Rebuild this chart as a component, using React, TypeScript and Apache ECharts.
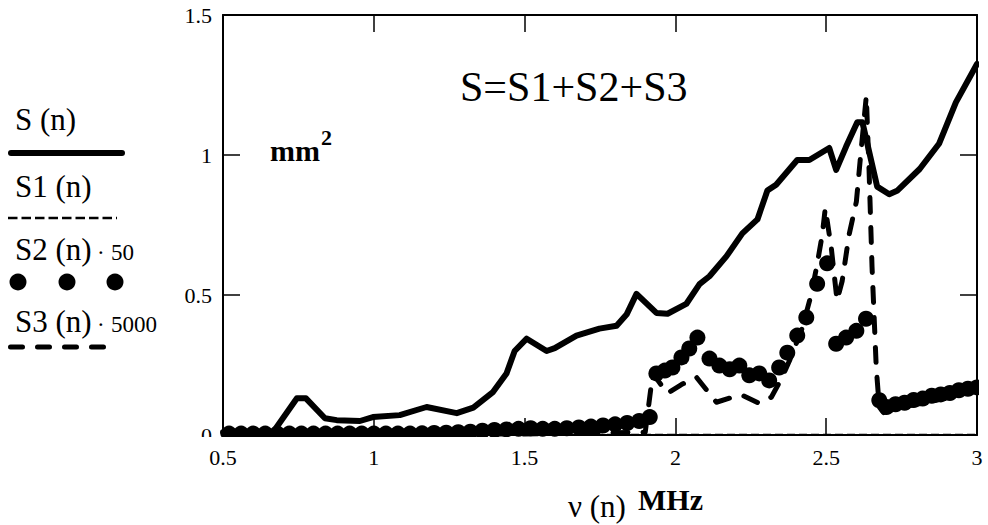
import React, { useEffect, useRef } from 'react';
import * as echarts from 'echarts';

// ---- data ----
const xMin = 0.5;
const xMax = 3;
const xStep = 0.5;
const yMin = 0;
const yMax = 1.5;
const yStep = 0.5;

// S(n) total (solid)
const sTotal: [number, number][] = [
  [0.5, 0.01], [0.666, 0.01], [0.745, 0.131], [0.775, 0.131], [0.838, 0.06], [0.877, 0.053],
  [0.954, 0.05], [0.997, 0.064], [1.086, 0.071], [1.175, 0.1], [1.275, 0.078], [1.33, 0.098],
  [1.394, 0.152], [1.44, 0.22], [1.467, 0.3], [1.507, 0.344], [1.573, 0.3], [1.6, 0.31],
  [1.672, 0.355], [1.748, 0.38], [1.805, 0.39], [1.838, 0.43], [1.871, 0.504], [1.937, 0.436],
  [1.974, 0.433], [2.036, 0.468], [2.08, 0.539], [2.113, 0.567], [2.169, 0.638], [2.222, 0.72],
  [2.272, 0.77], [2.305, 0.873], [2.334, 0.894], [2.404, 0.982], [2.444, 0.982], [2.51, 1.025],
  [2.533, 0.947], [2.566, 1.03], [2.603, 1.117], [2.62, 1.117], [2.669, 0.887], [2.709, 0.86],
  [2.735, 0.872], [2.81, 0.95], [2.874, 1.04], [2.93, 1.188], [3.0, 1.325],
];

// S1(n) (thin dashed, ~0)
const s1: [number, number][] = [
  [0.5, 0.001], [1.0, 0.001], [1.5, 0.001], [2.0, 0.001], [2.5, 0.001], [3.0, 0.001],
];

// S2(n)*50 (big dots)
const s2x50: [number, number][] = [
  [0.52, 0.005], [0.56, 0.005], [0.6, 0.005], [0.64, 0.005], [0.68, 0.005], [0.72, 0.005],
  [0.76, 0.005], [0.8, 0.005], [0.84, 0.005], [0.88, 0.005], [0.92, 0.005], [0.96, 0.005],
  [1.0, 0.005], [1.04, 0.005], [1.08, 0.005], [1.12, 0.005], [1.16, 0.006], [1.2, 0.007],
  [1.24, 0.008], [1.28, 0.01], [1.32, 0.012], [1.36, 0.015], [1.4, 0.018], [1.44, 0.02],
  [1.48, 0.022], [1.52, 0.024], [1.56, 0.022], [1.6, 0.022], [1.64, 0.024], [1.68, 0.027],
  [1.72, 0.03], [1.76, 0.034], [1.8, 0.038], [1.84, 0.043], [1.88, 0.05], [1.915, 0.064],
  [1.937, 0.22], [1.965, 0.23], [1.99, 0.241], [2.02, 0.277], [2.046, 0.309], [2.073, 0.348],
  [2.113, 0.273], [2.146, 0.248], [2.18, 0.235], [2.212, 0.248], [2.245, 0.213], [2.278, 0.22],
  [2.311, 0.195], [2.344, 0.241], [2.371, 0.294], [2.404, 0.355], [2.434, 0.42], [2.47, 0.54],
  [2.503, 0.613], [2.533, 0.326], [2.566, 0.348], [2.6, 0.372], [2.632, 0.415], [2.676, 0.124],
  [2.7, 0.1], [2.73, 0.11], [2.76, 0.115], [2.79, 0.125], [2.82, 0.13], [2.85, 0.14],
  [2.88, 0.145], [2.91, 0.15], [2.94, 0.16], [2.97, 0.165], [3.0, 0.17],
];

// S3(n)*5000 (thick dashed)
const s3x5000: [number, number][] = [
  [0.5, 0.002], [1.0, 0.002], [1.5, 0.004], [1.9, 0.01], [1.925, 0.22], [1.973, 0.149],
  [2.02, 0.18], [2.07, 0.206], [2.136, 0.117], [2.19, 0.135], [2.222, 0.142], [2.278, 0.113],
  [2.318, 0.135], [2.354, 0.206], [2.38, 0.27], [2.42, 0.38], [2.45, 0.5], [2.47, 0.61],
  [2.487, 0.716], [2.497, 0.81], [2.517, 0.667], [2.536, 0.48], [2.553, 0.55], [2.576, 0.716],
  [2.6, 0.833], [2.616, 1.02], [2.633, 1.21], [2.642, 0.95], [2.652, 0.6], [2.666, 0.24],
  [2.676, 0.1], [2.69, 0.08], [2.75, 0.1], [2.85, 0.12], [3.0, 0.16],
];

const legendNames = ['S (n)', 'S1 (n)', 'S2 (n)', 'S3 (n)'];
const legendFactors = ['', '', '50', '5000'];
const formulaText = 'S=S1+S2+S3';
const yUnit = 'mm';
const yUnitExp = '2';
const xTitle = 'ν (n)';
const xUnit = 'MHz';

const SERIF = 'Liberation Serif, Times New Roman, serif';

export default function App() {
  const ref = useRef<HTMLDivElement>(null);
  useEffect(() => {
    if (!ref.current) return;
    const chart = echarts.init(ref.current, undefined, { renderer: 'svg' });
    const axisLine = { show: true, onZero: false, lineStyle: { color: '#000', width: 2 } };
    const tick = { show: true, inside: true, length: 17, lineStyle: { color: '#000', width: 1.5 } };
    const label = { color: '#000', fontSize: 22, fontFamily: SERIF };
    const txt = (text: string, x: number, baseline: number, fs: number, bold = false) => ({
      type: 'text',
      x,
      y: baseline - 0.34 * fs,
      z: 110,
      style: {
        text,
        fontSize: fs,
        fontFamily: SERIF,
        fontWeight: bold ? 'bold' : 'normal',
        fill: '#000',
        align: 'left',
        verticalAlign: 'middle',
      },
    });
    const baselines = [130, 197, 260, 332];
    const legendText: any[] = [];
    legendNames.forEach((n, i) => {
      legendText.push(txt(n, 15, baselines[i], 31));
      if (legendFactors[i]) {
        legendText.push(txt('·', 97, baselines[i], 23));
        legendText.push(txt(legendFactors[i], 111, baselines[i], 23));
      }
    });
    chart.setOption({
      animation: false,
      textStyle: { fontFamily: SERIF },
      grid: { left: 223, right: 11, top: 15, bottom: 90, containLabel: false },
      xAxis: [
        {
          type: 'value', min: xMin, max: xMax, interval: xStep, position: 'bottom',
          axisLine, axisTick: tick, splitLine: { show: false },
          axisLabel: { ...label, margin: 11 },
        },
        {
          type: 'value', min: xMin, max: xMax, interval: xStep, position: 'top',
          axisLine, axisTick: tick, splitLine: { show: false }, axisLabel: { show: false },
        },
      ],
      yAxis: [
        {
          type: 'value', min: yMin, max: yMax, interval: yStep, position: 'left',
          axisLine, axisTick: tick, splitLine: { show: false },
          axisLabel: { ...label, margin: 11 },
        },
        {
          type: 'value', min: yMin, max: yMax, interval: yStep, position: 'right',
          axisLine, axisTick: tick, splitLine: { show: false }, axisLabel: { show: false },
        },
      ],
      series: [
        {
          name: 'S', type: 'line', data: sTotal, showSymbol: false, symbol: 'none',
          lineStyle: { color: '#000', width: 6, cap: 'round', join: 'round' }, z: 3,
        },
        {
          name: 'S1', type: 'line', data: s1, showSymbol: false, symbol: 'none',
          lineStyle: { color: '#000', width: 2, type: [8, 4] }, z: 3,
        },
        {
          name: 'S2', type: 'scatter', data: s2x50, symbol: 'circle', symbolSize: 16,
          itemStyle: { color: '#000', opacity: 1 }, z: 4,
        },
        {
          name: 'S3', type: 'line', data: s3x5000, showSymbol: false, symbol: 'none',
          lineStyle: { color: '#000', width: 5, type: [15, 15], cap: 'round', join: 'round' }, z: 5,
        },
      ],
      graphic: {
        elements: [
          // mask symbols that spill outside the frame
          { type: 'rect', z: 100, shape: { x: 150, y: 437, width: 838, height: 9 }, style: { fill: '#fff' } },
          { type: 'rect', z: 100, shape: { x: 979, y: 0, width: 9, height: 446 }, style: { fill: '#fff' } },
          txt(formulaText, 460, 101, 42),
          txt(yUnit, 270, 161, 30, true),
          txt(yUnitExp, 321, 145, 22, true),
          txt(xTitle, 568, 517, 31),
          txt(xUnit, 638, 510, 30, true),
          ...legendText,
          { type: 'line', z: 110, shape: { x1: 11, y1: 153, x2: 122, y2: 153 }, style: { stroke: '#000', lineWidth: 6, lineCap: 'round' } },
          { type: 'line', z: 110, shape: { x1: 8, y1: 218, x2: 117, y2: 218 }, style: { stroke: '#000', lineWidth: 2.5, lineDash: [9.5, 4] } },
          { type: 'circle', z: 110, shape: { cx: 18, cy: 282, r: 8.5 }, style: { fill: '#000' } },
          { type: 'circle', z: 110, shape: { cx: 67, cy: 282, r: 8.5 }, style: { fill: '#000' } },
          { type: 'circle', z: 110, shape: { cx: 115, cy: 282, r: 8.5 }, style: { fill: '#000' } },
          { type: 'line', z: 110, shape: { x1: 10.5, y1: 347, x2: 108, y2: 347 }, style: { stroke: '#000', lineWidth: 5, lineCap: 'round', lineDash: [12, 15] } },
        ],
      },
    });
    return () => chart.dispose();
  }, []);
  return <div ref={ref} style={{ position: 'fixed', left: 0, top: 0, width: 988, height: 525, background: '#fff' }} />;
}
